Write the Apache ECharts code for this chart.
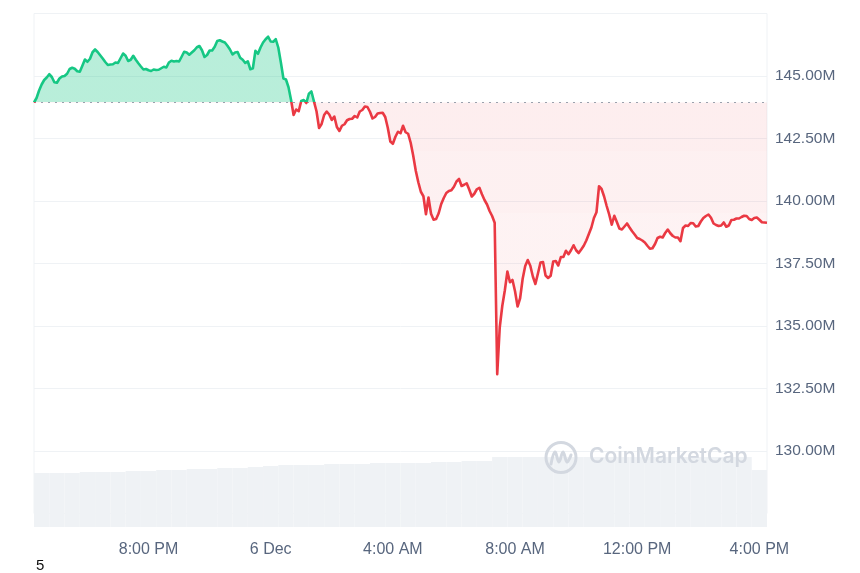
<!DOCTYPE html>
<html><head><meta charset="utf-8">
<script src="https://cdn.jsdelivr.net/npm/echarts@6/dist/echarts.min.js"></script>
<style>html,body{margin:0;padding:0;background:#fff}#c{width:860px;height:573px}</style>
</head><body><div id="c"></div>
<script>
// 5-minute price samples (millions), starting 5 Dec 16:15
const prices = [
143.94,144.12,144.42,144.66,144.84,144.94,145.07,144.96,144.75,144.73,
144.90,144.98,145.00,145.09,145.28,145.33,145.29,145.19,145.17,145.41,
145.66,145.57,145.69,145.95,146.06,145.96,145.83,145.70,145.56,145.44,
145.46,145.47,145.54,145.52,145.71,145.90,145.81,145.60,145.65,145.81,
145.65,145.51,145.38,145.26,145.28,145.23,145.20,145.26,145.24,145.25,
145.31,145.37,145.34,145.54,145.61,145.58,145.60,145.58,145.77,145.97,
145.94,145.85,145.94,146.03,146.15,146.20,146.03,145.76,145.84,146.02,
146.02,146.17,146.40,146.43,146.38,146.34,146.21,146.06,145.86,145.94,
145.96,145.73,145.65,145.52,145.59,145.27,145.31,146.01,145.89,146.14,
146.34,146.47,146.57,146.38,146.37,146.47,146.13,145.54,144.90,144.86,
144.55,144.04,143.44,143.66,143.59,144.00,144.04,143.92,144.29,144.38,
143.98,143.59,142.92,143.08,143.44,143.58,143.46,143.24,143.38,142.96,
142.80,143.01,143.07,143.23,143.28,143.29,143.40,143.34,143.58,143.64,
143.78,143.76,143.57,143.30,143.36,143.50,143.52,143.53,143.36,142.93,
142.38,142.29,142.57,142.77,142.71,143.01,142.75,142.69,142.33,141.81,
141.21,140.75,140.37,140.19,139.47,140.14,139.49,139.25,139.28,139.51,
139.88,140.12,140.32,140.40,140.43,140.57,140.78,140.88,140.60,140.65,
140.71,140.46,140.18,140.29,140.47,140.53,140.27,140.04,139.86,139.60,
139.40,139.13,133.07,134.95,135.81,136.43,137.18,136.75,136.84,136.39,
135.78,136.11,136.89,137.40,137.64,137.41,136.98,136.68,137.10,137.54,
137.56,137.02,136.92,137.01,137.58,137.60,137.42,137.76,137.76,138.01,
137.87,138.03,138.23,138.03,137.92,138.06,138.21,138.42,138.68,138.94,
139.32,139.55,140.59,140.48,140.18,139.80,139.46,139.05,139.41,139.16,
138.90,138.86,138.98,139.10,138.94,138.79,138.66,138.52,138.48,138.42,
138.34,138.21,138.09,138.11,138.28,138.52,138.57,138.54,138.72,138.86,
138.71,138.60,138.54,138.54,138.39,138.92,139.02,139.00,139.12,139.11,
138.98,139.00,139.18,139.32,139.40,139.46,139.33,139.10,139.04,139.00,
139.02,139.14,138.97,139.02,139.24,139.25,139.30,139.30,139.36,139.41,
139.40,139.28,139.24,139.32,139.34,139.25,139.15,139.14,139.13
];
const baseline = 143.94;
// 30-minute volume bars (relative units)
const volumes = [
54,54,54,55,55,55,56,56,57,57,58,58,59,59,60,61,62,62,62,63,63,63,64,64,
64,64,65,65,66,66,70,70,70,70,70,70,70,70,70,70,70,70,70,70,70,70,70,57
];
const tickTimes = ['20:00','00:00','04:00','08:00','12:00','16:00'];
const tickLabels = ['8:00 PM','6 Dec','4:00 AM','8:00 AM','12:00 PM','4:00 PM'];
const yTicks = [130, 132.5, 135, 137.5, 140, 142.5, 145];

function pad(n){ return (n < 10 ? '0' : '') + n; }
function stamp(min){ const d = min >= 1440 ? 6 : 5; const m = min % 1440; return d + ' Dec ' + pad(Math.floor(m/60)) + ':' + pad(m%60); }
const times = prices.map((_, i) => stamp(16*60 + 15 + 5*i));
const volTimes = volumes.map((_, i) => stamp(16*60 + 15 + 30*i));

const font = "'Liberation Sans', Arial, sans-serif";
const labelColor = '#58667e';
const chart = echarts.init(document.getElementById('c'), null, {renderer: 'canvas'});
chart.setOption({
  animation: false,
  backgroundColor: '#ffffff',
  grid: [
    {left: 34, right: 93, top: 13.5, bottom: 59.5, show: true, borderColor: '#eff2f5', borderWidth: 1, outerBoundsMode: 'none'},
    {left: 34, right: 93, top: 447, bottom: 46, outerBoundsMode: 'none'}
  ],
  xAxis: [
    {type: 'category', gridIndex: 0, data: times, boundaryGap: false,
     axisLine: {show: false}, axisTick: {show: false}, splitLine: {show: false},
     axisLabel: {margin: 28, color: labelColor, fontSize: 16, fontFamily: font,
       interval: (idx, val) => tickTimes.indexOf(String(val).slice(-5)) >= 0,
       formatter: (val) => { const k = tickTimes.indexOf(String(val).slice(-5)); return k >= 0 ? tickLabels[k] : ''; }}},
    {type: 'category', gridIndex: 1, data: volTimes, boundaryGap: true, show: false}
  ],
  yAxis: [
    {type: 'value', gridIndex: 0, position: 'right', min: 127.5, max: 147.5, interval: 2.5,
     axisLine: {show: false}, axisTick: {show: false},
     splitLine: {show: true, lineStyle: {color: '#eff2f5', width: 1}},
     axisLabel: {margin: 8, color: labelColor, fontSize: 15.5, fontFamily: font,
       formatter: (v) => yTicks.indexOf(v) >= 0 ? v.toFixed(2) + 'M' : ''}},
    {type: 'value', gridIndex: 1, min: 0, max: 80, show: false}
  ],
  visualMap: [
    {show: false, type: 'piecewise', seriesIndex: 0, dimension: 1,
     pieces: [{gte: 0, lte: baseline, color: '#ea3943'}, {gt: baseline, lte: 1000, color: '#16c784'}]},
    {show: false, type: 'piecewise', seriesIndex: 1, dimension: 1,
     pieces: [
       {gte: 0, lte: 136.5, color: 'rgba(234,57,67,0.05)'},
       {gt: 136.5, lte: 139.5, color: 'rgba(234,57,67,0.062)'},
       {gt: 139.5, lte: 142, color: 'rgba(234,57,67,0.075)'},
       {gt: 142, lte: baseline, color: 'rgba(234,57,67,0.088)'},
       {gt: baseline, lte: 1000, color: 'rgba(22,199,132,0.30)'}
     ]}
  ],
  series: [
    {type: 'line', xAxisIndex: 0, yAxisIndex: 0, data: prices, symbol: 'none', z: 5,
     lineStyle: {width: 2.6, join: 'round'}, silent: true,
     markLine: {silent: true, symbol: ['none', 'none'], label: {show: false},
       lineStyle: {type: [2, 5], color: '#9aa1ad', width: 1},
       data: [{yAxis: baseline}]}},
    {type: 'line', xAxisIndex: 0, yAxisIndex: 0, data: prices, symbol: 'none', z: 3, silent: true,
     lineStyle: {width: 0, opacity: 0},
     areaStyle: {origin: baseline, opacity: 1}},
    {type: 'bar', xAxisIndex: 1, yAxisIndex: 1, data: volumes, barCategoryGap: 0, silent: true,
     itemStyle: {color: '#eff2f5'}}
  ],
  graphic: [
    {type: 'circle', z: 100, shape: {cx: 561, cy: 457.5, r: 15}, style: {fill: 'none', stroke: '#d3d8e0', lineWidth: 3}},
    {type: 'polyline', z: 100, shape: {points: [[551, 464], [555, 452], [559, 462], [563, 452], [567, 462], [571, 455]], smooth: 0.4},
     style: {fill: 'none', stroke: '#d3d8e0', lineWidth: 3, lineCap: 'round', lineJoin: 'round'}},
    {type: 'text', z: 100, left: 589, top: 446, style: {text: 'CoinMarketCap', fill: '#d3d8e0', font: "600 21px Inter, 'Noto Sans', sans-serif"}},
    {type: 'text', z: 100, left: 36, top: 558, style: {text: '5', fill: '#111111', font: "15px 'Liberation Sans', Arial, sans-serif"}}
  ]
});
</script>
</body></html>
